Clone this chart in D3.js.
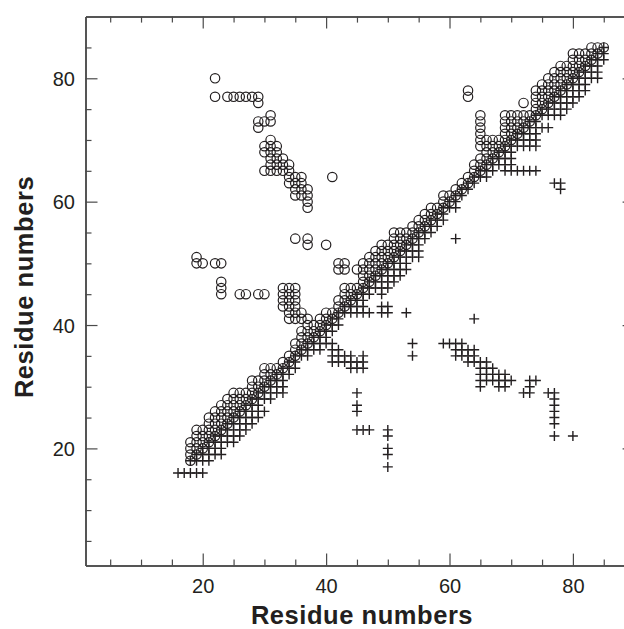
<!DOCTYPE html>
<html>
<head>
<meta charset="utf-8">
<script src="https://cdnjs.cloudflare.com/ajax/libs/d3/7.8.5/d3.min.js"></script>
<style>
  html, body { margin: 0; padding: 0; background: #fff; overflow: hidden; }
  svg { display: block; }
  text { font-family: "Liberation Sans", Arial, sans-serif; fill: #231f20; }
</style>
</head>
<body>
<svg id="chart" width="624" height="629"></svg>
<script>
// upper triangle contacts, each row is [residue x, residue y, residue y, ...]
const circleColumns = [
    [18, 18, 19, 20, 21],
    [19, 19, 20, 21, 22, 23, 50, 51],
    [20, 20, 21, 22, 23, 50],
    [21, 21, 22, 23, 24, 25],
    [22, 22, 23, 24, 25, 26, 50, 77, 80],
    [23, 23, 24, 25, 26, 27, 45, 46, 47, 50],
    [24, 24, 25, 26, 27, 28, 77],
    [25, 25, 26, 27, 28, 29, 77],
    [26, 26, 27, 28, 29, 45, 77],
    [27, 27, 28, 29, 45, 77],
    [28, 28, 29, 30, 31, 77],
    [29, 29, 30, 31, 45, 72, 73, 76, 77],
    [30, 30, 31, 32, 33, 45, 65, 68, 69, 73],
    [31, 31, 32, 33, 65, 66, 67, 68, 69, 70, 73, 74],
    [32, 32, 33, 65, 66, 67, 68, 69],
    [33, 33, 34, 43, 44, 45, 46, 65, 66, 67],
    [34, 34, 35, 41, 42, 43, 44, 45, 46, 63, 64, 65, 66],
    [35, 35, 36, 37, 41, 42, 43, 44, 45, 46, 54, 61, 62, 63, 64],
    [36, 36, 37, 38, 39, 41, 42, 61, 62, 63, 64],
    [37, 37, 38, 39, 40, 41, 53, 54, 59, 60, 61, 62],
    [38, 38, 39, 40],
    [39, 39, 40, 41],
    [40, 40, 41, 42, 53],
    [41, 41, 42, 64],
    [42, 42, 43, 44, 49, 50],
    [43, 43, 44, 45, 46, 49, 50],
    [44, 44, 45, 46],
    [45, 45, 46, 49],
    [46, 46, 47, 48, 49, 50],
    [47, 47, 48, 49, 50, 51],
    [48, 48, 49, 50, 51, 52],
    [49, 49, 50, 51, 52, 53],
    [50, 50, 51, 52, 53],
    [51, 51, 52, 53, 54, 55],
    [52, 52, 53, 54, 55],
    [53, 53, 54, 55],
    [54, 54, 55, 56],
    [55, 55, 56, 57],
    [56, 56, 57, 58],
    [57, 57, 58, 59],
    [58, 58, 59],
    [59, 59, 60, 61],
    [60, 60, 61],
    [61, 61, 62],
    [62, 62, 63],
    [63, 63, 64, 77, 78],
    [64, 64, 65, 66],
    [65, 65, 66, 67, 69, 70, 71, 72, 73, 74],
    [66, 66, 67, 68, 69, 70],
    [67, 67, 68, 69, 70],
    [68, 68, 69, 70],
    [69, 69, 70, 71, 72, 73, 74],
    [70, 70, 71, 72, 73, 74],
    [71, 71, 72, 73, 74],
    [72, 72, 73, 74, 76],
    [73, 73, 74],
    [74, 74, 75, 76, 77, 78],
    [75, 75, 76, 77, 78, 79],
    [76, 76, 77, 78, 79, 80],
    [77, 77, 78, 79, 80, 81],
    [78, 78, 79, 80, 81, 82],
    [79, 79, 80, 81, 82],
    [80, 80, 81, 82, 83, 84],
    [81, 81, 82, 83, 84],
    [82, 82, 83, 84],
    [83, 83, 84, 85],
    [84, 84, 85],
    [85, 85]
];

// lower triangle contacts, each row is [residue y, residue x, residue x, ...]
const crossRows = [
    [16, 16, 17, 18, 19, 20],
    [17, 50],
    [18, 18, 19, 20, 21],
    [19, 19, 20, 21, 22, 23, 50],
    [20, 20, 21, 22, 23, 50],
    [21, 21, 22, 23, 24, 25],
    [22, 22, 23, 24, 25, 26, 50, 77, 80],
    [23, 23, 24, 25, 26, 27, 45, 46, 47, 50],
    [24, 24, 25, 26, 27, 28, 77],
    [25, 25, 26, 27, 28, 29, 77],
    [26, 26, 27, 28, 29, 30, 45, 77],
    [27, 27, 28, 29, 45, 77],
    [28, 28, 29, 30, 31, 77],
    [29, 29, 30, 31, 32, 33, 45, 72, 73, 76, 77],
    [30, 30, 31, 32, 33, 65, 68, 69, 73],
    [31, 31, 32, 33, 65, 66, 67, 68, 69, 70, 73, 74],
    [32, 32, 33, 34, 65, 66, 67, 68, 69],
    [33, 33, 34, 35, 44, 45, 46, 65, 66, 67],
    [34, 34, 35, 41, 42, 43, 44, 45, 46, 63, 64, 65, 66],
    [35, 35, 36, 37, 41, 42, 43, 44, 46, 54, 61, 62, 63, 64],
    [36, 36, 37, 38, 39, 41, 42, 61, 62, 63, 64],
    [37, 37, 38, 39, 40, 41, 54, 59, 60, 61, 62],
    [38, 38, 39, 40],
    [39, 39, 40, 41],
    [40, 40, 41, 42],
    [41, 41, 42, 64],
    [42, 42, 43, 44, 45, 46, 47, 49, 50, 53],
    [43, 43, 44, 45, 46, 49, 50],
    [44, 44, 45, 46],
    [45, 45, 46, 47, 49],
    [46, 46, 47, 48, 49, 50],
    [47, 47, 48, 49, 50, 51],
    [48, 48, 49, 50, 51, 52],
    [49, 49, 50, 51, 52, 53],
    [50, 50, 51, 52, 53],
    [51, 51, 52, 53, 54, 55],
    [52, 52, 53, 54, 55],
    [53, 53, 54, 55],
    [54, 54, 55, 56, 61],
    [55, 55, 56, 57],
    [56, 56, 57, 58],
    [57, 57, 58, 59],
    [58, 58, 59],
    [59, 59, 60, 61],
    [60, 60, 61],
    [61, 61, 62],
    [62, 62, 63, 78],
    [63, 63, 64, 77, 78],
    [64, 64, 65, 66],
    [65, 65, 66, 67, 69, 70, 71, 72, 73, 74],
    [66, 66, 67, 68, 69, 70],
    [67, 67, 68, 69, 70],
    [68, 68, 69, 70],
    [69, 69, 70, 71, 72, 73, 74],
    [70, 70, 71, 72, 73, 74],
    [71, 71, 72, 73, 74],
    [72, 72, 73, 74, 75, 76],
    [73, 73, 74],
    [74, 74, 75, 76, 77, 78],
    [75, 75, 76, 77, 78, 79],
    [76, 76, 77, 78, 79, 80],
    [77, 77, 78, 79, 80, 81],
    [78, 78, 79, 80, 81, 82],
    [79, 79, 80, 81, 82],
    [80, 80, 81, 82, 83, 84],
    [81, 81, 82, 83, 84],
    [82, 82, 83, 84],
    [83, 83, 84, 85],
    [84, 84, 85],
    [85, 85]
];

const majorTicks = [20, 40, 60, 80];
const minorTicks = [5, 10, 15, 25, 30, 35, 45, 50, 55, 65, 70, 75, 85];
const axisTitle = "Residue numbers";

const ink = "#231f20";
const axisColor = "#4a4a4a";

const svg = d3.select("#chart");

// domain runs to 90 so the right edge falls outside the window, as in the original
const x = d3.scaleLinear().domain([1, 90]).range([85.5, 634.6]);
const y = d3.scaleLinear().domain([1, 90]).range([565.6, 16.6]);

const circles = circleColumns.flatMap(row => row.slice(1).map(v => ({ x: row[0], y: v })));
const crosses = crossRows.flatMap(row => row.slice(1).map(v => ({ x: v, y: row[0] })));

svg.append("g")
    .selectAll("circle")
    .data(circles)
    .enter().append("circle")
    .attr("cx", d => x(d.x))
    .attr("cy", d => y(d.y))
    .attr("r", 4.7)
    .attr("fill", "none")
    .attr("stroke", ink)
    .attr("stroke-width", 1.2);

svg.append("g")
    .selectAll("path")
    .data(crosses)
    .enter().append("path")
    .attr("d", d => `M${x(d.x) - 5},${y(d.y)}H${x(d.x) + 5}M${x(d.x)},${y(d.y) - 5}V${y(d.y) + 5}`)
    .attr("fill", "none")
    .attr("stroke", ink)
    .attr("stroke-width", 1.4);

function frameAxis(maker, scale, transform, values, size) {
    const axis = maker(scale).tickValues(values).tickSizeInner(size).tickSizeOuter(0).tickFormat("");
    const g = svg.append("g").attr("transform", transform).call(axis);
    g.selectAll("path.domain").attr("stroke", axisColor).attr("stroke-width", 1.5);
    g.selectAll("line").attr("stroke", axisColor).attr("stroke-width", 1.2);
    return g;
}

// ticks point inward on all four sides
frameAxis(d3.axisBottom, x, "translate(0,565.6)", minorTicks, -6);
frameAxis(d3.axisTop, x, "translate(0,16.6)", minorTicks, -6);
frameAxis(d3.axisLeft, y, "translate(85.5,0)", minorTicks, -6);
frameAxis(d3.axisRight, y, "translate(634.6,0)", minorTicks, -6);
frameAxis(d3.axisTop, x, "translate(0,16.6)", majorTicks, -12);
frameAxis(d3.axisRight, y, "translate(634.6,0)", majorTicks, -12);

const bottomMajor = frameAxis(d3.axisBottom, x, "translate(0,565.6)", majorTicks, -12);
const leftMajor = frameAxis(d3.axisLeft, y, "translate(85.5,0)", majorTicks, -12);

bottomMajor.selectAll(".tick").append("text")
    .attr("y", 27.5)
    .attr("text-anchor", "middle")
    .attr("font-size", 20)
    .attr("fill", ink)
    .text(d => d);

leftMajor.selectAll(".tick").append("text")
    .attr("x", -10.5)
    .attr("dy", "0.35em")
    .attr("text-anchor", "end")
    .attr("font-size", 20)
    .attr("fill", ink)
    .text(d => d);

svg.append("text")
    .attr("x", 362)
    .attr("y", 623.5)
    .attr("text-anchor", "middle")
    .attr("font-size", 25.5)
    .attr("letter-spacing", 0.55)
    .attr("font-weight", "bold")
    .text(axisTitle);

svg.append("text")
    .attr("transform", "translate(33,287) rotate(-90)")
    .attr("text-anchor", "middle")
    .attr("font-size", 25.5)
    .attr("letter-spacing", 0.55)
    .attr("font-weight", "bold")
    .text(axisTitle);
</script>
</body>
</html>
